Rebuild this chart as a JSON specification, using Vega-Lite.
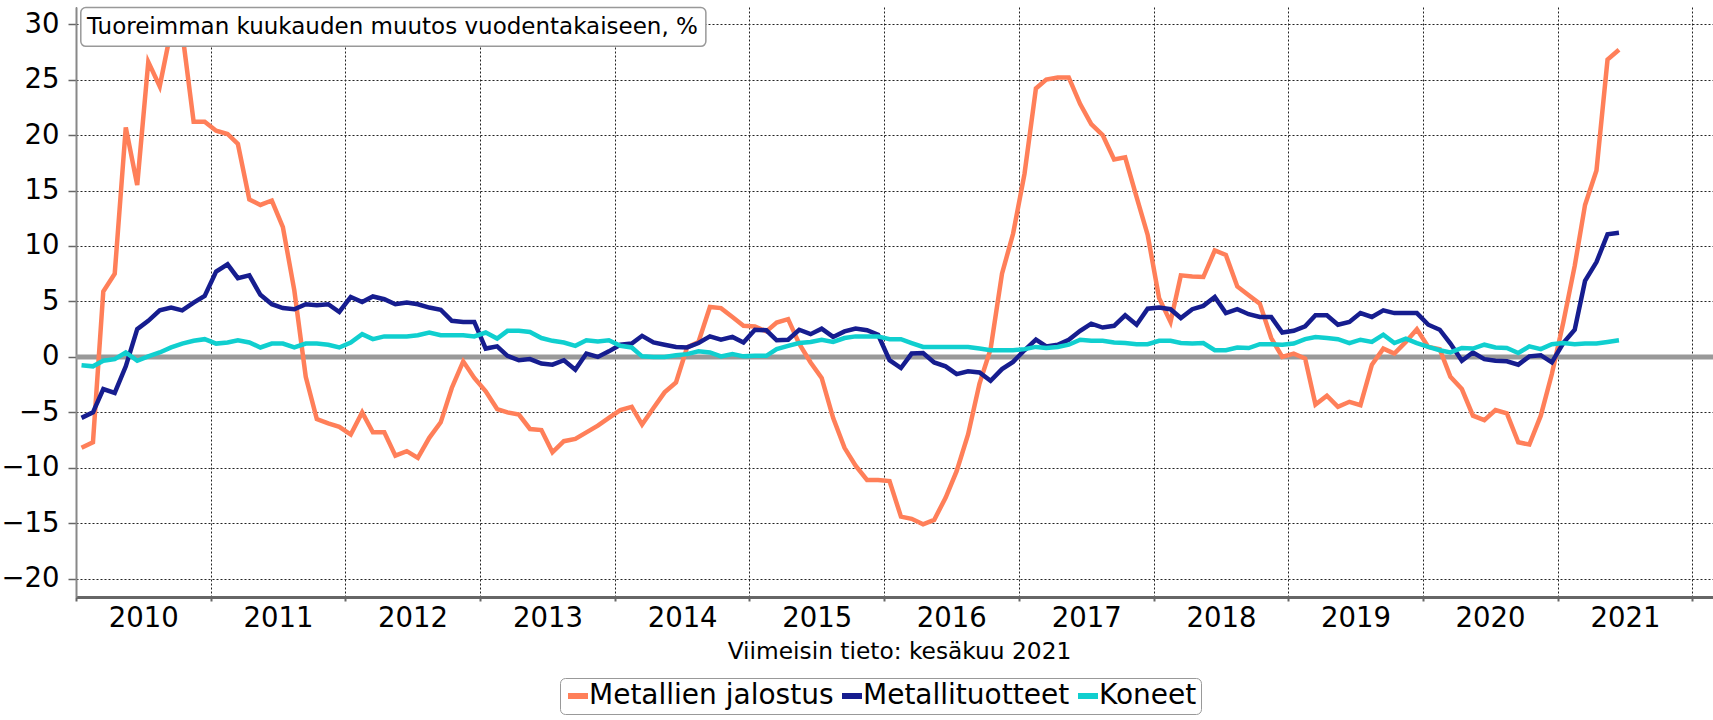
{
  "$schema": "https://vega.github.io/schema/vega-lite/v6.json",
  "width": 1637,
  "height": 590,
  "autosize": {"type": "none"},
  "padding": {"left": 76, "top": 7, "right": 0, "bottom": 123},
  "background": "white",
  "config": {"view": {"stroke": null}, "font": "DejaVu Sans"},
  "datasets": {
    "sarjat": [
      {"kk":"2010-01-16","sarja":"Metallien jalostus","muutos":-8.2},
      {"kk":"2010-02-16","sarja":"Metallien jalostus","muutos":-7.7},
      {"kk":"2010-03-16","sarja":"Metallien jalostus","muutos":5.9},
      {"kk":"2010-04-16","sarja":"Metallien jalostus","muutos":7.5},
      {"kk":"2010-05-16","sarja":"Metallien jalostus","muutos":20.7},
      {"kk":"2010-06-16","sarja":"Metallien jalostus","muutos":15.5},
      {"kk":"2010-07-16","sarja":"Metallien jalostus","muutos":26.6},
      {"kk":"2010-08-16","sarja":"Metallien jalostus","muutos":24.4},
      {"kk":"2010-09-16","sarja":"Metallien jalostus","muutos":29.5},
      {"kk":"2010-10-16","sarja":"Metallien jalostus","muutos":29.3},
      {"kk":"2010-11-16","sarja":"Metallien jalostus","muutos":21.2},
      {"kk":"2010-12-16","sarja":"Metallien jalostus","muutos":21.2},
      {"kk":"2011-01-16","sarja":"Metallien jalostus","muutos":20.4},
      {"kk":"2011-02-16","sarja":"Metallien jalostus","muutos":20.1},
      {"kk":"2011-03-16","sarja":"Metallien jalostus","muutos":19.2},
      {"kk":"2011-04-16","sarja":"Metallien jalostus","muutos":14.2},
      {"kk":"2011-05-16","sarja":"Metallien jalostus","muutos":13.7},
      {"kk":"2011-06-16","sarja":"Metallien jalostus","muutos":14.1},
      {"kk":"2011-07-16","sarja":"Metallien jalostus","muutos":11.7},
      {"kk":"2011-08-16","sarja":"Metallien jalostus","muutos":6.0},
      {"kk":"2011-09-16","sarja":"Metallien jalostus","muutos":-1.8},
      {"kk":"2011-10-16","sarja":"Metallien jalostus","muutos":-5.6},
      {"kk":"2011-11-16","sarja":"Metallien jalostus","muutos":-6.0},
      {"kk":"2011-12-16","sarja":"Metallien jalostus","muutos":-6.3},
      {"kk":"2012-01-16","sarja":"Metallien jalostus","muutos":-7.0},
      {"kk":"2012-02-16","sarja":"Metallien jalostus","muutos":-5.0},
      {"kk":"2012-03-16","sarja":"Metallien jalostus","muutos":-6.8},
      {"kk":"2012-04-16","sarja":"Metallien jalostus","muutos":-6.8},
      {"kk":"2012-05-16","sarja":"Metallien jalostus","muutos":-8.9},
      {"kk":"2012-06-16","sarja":"Metallien jalostus","muutos":-8.5},
      {"kk":"2012-07-16","sarja":"Metallien jalostus","muutos":-9.1},
      {"kk":"2012-08-16","sarja":"Metallien jalostus","muutos":-7.3},
      {"kk":"2012-09-16","sarja":"Metallien jalostus","muutos":-5.9},
      {"kk":"2012-10-16","sarja":"Metallien jalostus","muutos":-2.8},
      {"kk":"2012-11-16","sarja":"Metallien jalostus","muutos":-0.4},
      {"kk":"2012-12-16","sarja":"Metallien jalostus","muutos":-1.9},
      {"kk":"2013-01-16","sarja":"Metallien jalostus","muutos":-3.1},
      {"kk":"2013-02-16","sarja":"Metallien jalostus","muutos":-4.7},
      {"kk":"2013-03-16","sarja":"Metallien jalostus","muutos":-5.0},
      {"kk":"2013-04-16","sarja":"Metallien jalostus","muutos":-5.2},
      {"kk":"2013-05-16","sarja":"Metallien jalostus","muutos":-6.5},
      {"kk":"2013-06-16","sarja":"Metallien jalostus","muutos":-6.6},
      {"kk":"2013-07-16","sarja":"Metallien jalostus","muutos":-8.6},
      {"kk":"2013-08-16","sarja":"Metallien jalostus","muutos":-7.6},
      {"kk":"2013-09-16","sarja":"Metallien jalostus","muutos":-7.4},
      {"kk":"2013-10-16","sarja":"Metallien jalostus","muutos":-6.8},
      {"kk":"2013-11-16","sarja":"Metallien jalostus","muutos":-6.2},
      {"kk":"2013-12-16","sarja":"Metallien jalostus","muutos":-5.5},
      {"kk":"2014-01-16","sarja":"Metallien jalostus","muutos":-4.8},
      {"kk":"2014-02-16","sarja":"Metallien jalostus","muutos":-4.5},
      {"kk":"2014-03-16","sarja":"Metallien jalostus","muutos":-6.1},
      {"kk":"2014-04-16","sarja":"Metallien jalostus","muutos":-4.6},
      {"kk":"2014-05-16","sarja":"Metallien jalostus","muutos":-3.2},
      {"kk":"2014-06-16","sarja":"Metallien jalostus","muutos":-2.3},
      {"kk":"2014-07-16","sarja":"Metallien jalostus","muutos":0.85},
      {"kk":"2014-08-16","sarja":"Metallien jalostus","muutos":1.35},
      {"kk":"2014-09-16","sarja":"Metallien jalostus","muutos":4.5},
      {"kk":"2014-10-16","sarja":"Metallien jalostus","muutos":4.4},
      {"kk":"2014-11-16","sarja":"Metallien jalostus","muutos":3.6},
      {"kk":"2014-12-16","sarja":"Metallien jalostus","muutos":2.8},
      {"kk":"2015-01-16","sarja":"Metallien jalostus","muutos":2.75},
      {"kk":"2015-02-16","sarja":"Metallien jalostus","muutos":2.3},
      {"kk":"2015-03-16","sarja":"Metallien jalostus","muutos":3.1},
      {"kk":"2015-04-16","sarja":"Metallien jalostus","muutos":3.4},
      {"kk":"2015-05-16","sarja":"Metallien jalostus","muutos":1.2},
      {"kk":"2015-06-16","sarja":"Metallien jalostus","muutos":-0.5},
      {"kk":"2015-07-16","sarja":"Metallien jalostus","muutos":-1.9},
      {"kk":"2015-08-16","sarja":"Metallien jalostus","muutos":-5.5},
      {"kk":"2015-09-16","sarja":"Metallien jalostus","muutos":-8.2},
      {"kk":"2015-10-16","sarja":"Metallien jalostus","muutos":-9.8},
      {"kk":"2015-11-16","sarja":"Metallien jalostus","muutos":-11.1},
      {"kk":"2015-12-16","sarja":"Metallien jalostus","muutos":-11.1},
      {"kk":"2016-01-16","sarja":"Metallien jalostus","muutos":-11.2},
      {"kk":"2016-02-16","sarja":"Metallien jalostus","muutos":-14.4},
      {"kk":"2016-03-16","sarja":"Metallien jalostus","muutos":-14.6},
      {"kk":"2016-04-16","sarja":"Metallien jalostus","muutos":-15.1},
      {"kk":"2016-05-16","sarja":"Metallien jalostus","muutos":-14.7},
      {"kk":"2016-06-16","sarja":"Metallien jalostus","muutos":-12.7},
      {"kk":"2016-07-16","sarja":"Metallien jalostus","muutos":-10.3},
      {"kk":"2016-08-16","sarja":"Metallien jalostus","muutos":-7.0},
      {"kk":"2016-09-16","sarja":"Metallien jalostus","muutos":-2.4},
      {"kk":"2016-10-16","sarja":"Metallien jalostus","muutos":0.7},
      {"kk":"2016-11-16","sarja":"Metallien jalostus","muutos":7.5},
      {"kk":"2016-12-16","sarja":"Metallien jalostus","muutos":11.1},
      {"kk":"2017-01-16","sarja":"Metallien jalostus","muutos":16.5},
      {"kk":"2017-02-16","sarja":"Metallien jalostus","muutos":24.2},
      {"kk":"2017-03-16","sarja":"Metallien jalostus","muutos":25.0},
      {"kk":"2017-04-16","sarja":"Metallien jalostus","muutos":25.2},
      {"kk":"2017-05-16","sarja":"Metallien jalostus","muutos":25.2},
      {"kk":"2017-06-16","sarja":"Metallien jalostus","muutos":22.8},
      {"kk":"2017-07-16","sarja":"Metallien jalostus","muutos":21.0},
      {"kk":"2017-08-16","sarja":"Metallien jalostus","muutos":20.0},
      {"kk":"2017-09-16","sarja":"Metallien jalostus","muutos":17.8},
      {"kk":"2017-10-16","sarja":"Metallien jalostus","muutos":18.0},
      {"kk":"2017-11-16","sarja":"Metallien jalostus","muutos":14.4},
      {"kk":"2017-12-16","sarja":"Metallien jalostus","muutos":11.0},
      {"kk":"2018-01-16","sarja":"Metallien jalostus","muutos":5.3},
      {"kk":"2018-02-16","sarja":"Metallien jalostus","muutos":3.15},
      {"kk":"2018-03-16","sarja":"Metallien jalostus","muutos":7.35},
      {"kk":"2018-04-16","sarja":"Metallien jalostus","muutos":7.25},
      {"kk":"2018-05-16","sarja":"Metallien jalostus","muutos":7.2},
      {"kk":"2018-06-16","sarja":"Metallien jalostus","muutos":9.6},
      {"kk":"2018-07-16","sarja":"Metallien jalostus","muutos":9.2},
      {"kk":"2018-08-16","sarja":"Metallien jalostus","muutos":6.35},
      {"kk":"2018-09-16","sarja":"Metallien jalostus","muutos":5.55},
      {"kk":"2018-10-16","sarja":"Metallien jalostus","muutos":4.8},
      {"kk":"2018-11-16","sarja":"Metallien jalostus","muutos":1.7},
      {"kk":"2018-12-16","sarja":"Metallien jalostus","muutos":0.0},
      {"kk":"2019-01-16","sarja":"Metallien jalostus","muutos":0.3},
      {"kk":"2019-02-16","sarja":"Metallien jalostus","muutos":-0.15},
      {"kk":"2019-03-16","sarja":"Metallien jalostus","muutos":-4.3},
      {"kk":"2019-04-16","sarja":"Metallien jalostus","muutos":-3.5},
      {"kk":"2019-05-16","sarja":"Metallien jalostus","muutos":-4.5},
      {"kk":"2019-06-16","sarja":"Metallien jalostus","muutos":-4.05},
      {"kk":"2019-07-16","sarja":"Metallien jalostus","muutos":-4.35},
      {"kk":"2019-08-16","sarja":"Metallien jalostus","muutos":-0.7},
      {"kk":"2019-09-16","sarja":"Metallien jalostus","muutos":0.75},
      {"kk":"2019-10-16","sarja":"Metallien jalostus","muutos":0.3},
      {"kk":"2019-11-16","sarja":"Metallien jalostus","muutos":1.35},
      {"kk":"2019-12-16","sarja":"Metallien jalostus","muutos":2.5},
      {"kk":"2020-01-16","sarja":"Metallien jalostus","muutos":0.9},
      {"kk":"2020-02-16","sarja":"Metallien jalostus","muutos":0.7},
      {"kk":"2020-03-16","sarja":"Metallien jalostus","muutos":-1.8},
      {"kk":"2020-04-16","sarja":"Metallien jalostus","muutos":-2.9},
      {"kk":"2020-05-16","sarja":"Metallien jalostus","muutos":-5.3},
      {"kk":"2020-06-16","sarja":"Metallien jalostus","muutos":-5.7},
      {"kk":"2020-07-16","sarja":"Metallien jalostus","muutos":-4.8},
      {"kk":"2020-08-16","sarja":"Metallien jalostus","muutos":-5.1},
      {"kk":"2020-09-16","sarja":"Metallien jalostus","muutos":-7.7},
      {"kk":"2020-10-16","sarja":"Metallien jalostus","muutos":-7.9},
      {"kk":"2020-11-16","sarja":"Metallien jalostus","muutos":-5.3},
      {"kk":"2020-12-16","sarja":"Metallien jalostus","muutos":-1.55},
      {"kk":"2021-01-16","sarja":"Metallien jalostus","muutos":3.1},
      {"kk":"2021-02-16","sarja":"Metallien jalostus","muutos":8.2},
      {"kk":"2021-03-16","sarja":"Metallien jalostus","muutos":13.7},
      {"kk":"2021-04-16","sarja":"Metallien jalostus","muutos":16.8},
      {"kk":"2021-05-16","sarja":"Metallien jalostus","muutos":26.8},
      {"kk":"2021-06-16","sarja":"Metallien jalostus","muutos":27.7},

      {"kk":"2010-01-16","sarja":"Metallituotteet","muutos":-5.5},
      {"kk":"2010-02-16","sarja":"Metallituotteet","muutos":-5.0},
      {"kk":"2010-03-16","sarja":"Metallituotteet","muutos":-2.9},
      {"kk":"2010-04-16","sarja":"Metallituotteet","muutos":-3.25},
      {"kk":"2010-05-16","sarja":"Metallituotteet","muutos":-0.85},
      {"kk":"2010-06-16","sarja":"Metallituotteet","muutos":2.5},
      {"kk":"2010-07-16","sarja":"Metallituotteet","muutos":3.25},
      {"kk":"2010-08-16","sarja":"Metallituotteet","muutos":4.2},
      {"kk":"2010-09-16","sarja":"Metallituotteet","muutos":4.45},
      {"kk":"2010-10-16","sarja":"Metallituotteet","muutos":4.2},
      {"kk":"2010-11-16","sarja":"Metallituotteet","muutos":4.9},
      {"kk":"2010-12-16","sarja":"Metallituotteet","muutos":5.5},
      {"kk":"2011-01-16","sarja":"Metallituotteet","muutos":7.7},
      {"kk":"2011-02-16","sarja":"Metallituotteet","muutos":8.35},
      {"kk":"2011-03-16","sarja":"Metallituotteet","muutos":7.1},
      {"kk":"2011-04-16","sarja":"Metallituotteet","muutos":7.35},
      {"kk":"2011-05-16","sarja":"Metallituotteet","muutos":5.6},
      {"kk":"2011-06-16","sarja":"Metallituotteet","muutos":4.75},
      {"kk":"2011-07-16","sarja":"Metallituotteet","muutos":4.4},
      {"kk":"2011-08-16","sarja":"Metallituotteet","muutos":4.3},
      {"kk":"2011-09-16","sarja":"Metallituotteet","muutos":4.75},
      {"kk":"2011-10-16","sarja":"Metallituotteet","muutos":4.65},
      {"kk":"2011-11-16","sarja":"Metallituotteet","muutos":4.75},
      {"kk":"2011-12-16","sarja":"Metallituotteet","muutos":4.05},
      {"kk":"2012-01-16","sarja":"Metallituotteet","muutos":5.4},
      {"kk":"2012-02-16","sarja":"Metallituotteet","muutos":4.95},
      {"kk":"2012-03-16","sarja":"Metallituotteet","muutos":5.45},
      {"kk":"2012-04-16","sarja":"Metallituotteet","muutos":5.2},
      {"kk":"2012-05-16","sarja":"Metallituotteet","muutos":4.75},
      {"kk":"2012-06-16","sarja":"Metallituotteet","muutos":4.9},
      {"kk":"2012-07-16","sarja":"Metallituotteet","muutos":4.75},
      {"kk":"2012-08-16","sarja":"Metallituotteet","muutos":4.45},
      {"kk":"2012-09-16","sarja":"Metallituotteet","muutos":4.25},
      {"kk":"2012-10-16","sarja":"Metallituotteet","muutos":3.25},
      {"kk":"2012-11-16","sarja":"Metallituotteet","muutos":3.15},
      {"kk":"2012-12-16","sarja":"Metallituotteet","muutos":3.15},
      {"kk":"2013-01-16","sarja":"Metallituotteet","muutos":0.75},
      {"kk":"2013-02-16","sarja":"Metallituotteet","muutos":0.95},
      {"kk":"2013-03-16","sarja":"Metallituotteet","muutos":0.1},
      {"kk":"2013-04-16","sarja":"Metallituotteet","muutos":-0.3},
      {"kk":"2013-05-16","sarja":"Metallituotteet","muutos":-0.2},
      {"kk":"2013-06-16","sarja":"Metallituotteet","muutos":-0.6},
      {"kk":"2013-07-16","sarja":"Metallituotteet","muutos":-0.7},
      {"kk":"2013-08-16","sarja":"Metallituotteet","muutos":-0.3},
      {"kk":"2013-09-16","sarja":"Metallituotteet","muutos":-1.15},
      {"kk":"2013-10-16","sarja":"Metallituotteet","muutos":0.3},
      {"kk":"2013-11-16","sarja":"Metallituotteet","muutos":0.0},
      {"kk":"2013-12-16","sarja":"Metallituotteet","muutos":0.5},
      {"kk":"2014-01-16","sarja":"Metallituotteet","muutos":1.1},
      {"kk":"2014-02-16","sarja":"Metallituotteet","muutos":1.2},
      {"kk":"2014-03-16","sarja":"Metallituotteet","muutos":1.9},
      {"kk":"2014-04-16","sarja":"Metallituotteet","muutos":1.3},
      {"kk":"2014-05-16","sarja":"Metallituotteet","muutos":1.1},
      {"kk":"2014-06-16","sarja":"Metallituotteet","muutos":0.9},
      {"kk":"2014-07-16","sarja":"Metallituotteet","muutos":0.85},
      {"kk":"2014-08-16","sarja":"Metallituotteet","muutos":1.25},
      {"kk":"2014-09-16","sarja":"Metallituotteet","muutos":1.85},
      {"kk":"2014-10-16","sarja":"Metallituotteet","muutos":1.55},
      {"kk":"2014-11-16","sarja":"Metallituotteet","muutos":1.8},
      {"kk":"2014-12-16","sarja":"Metallituotteet","muutos":1.3},
      {"kk":"2015-01-16","sarja":"Metallituotteet","muutos":2.45},
      {"kk":"2015-02-16","sarja":"Metallituotteet","muutos":2.4},
      {"kk":"2015-03-16","sarja":"Metallituotteet","muutos":1.5},
      {"kk":"2015-04-16","sarja":"Metallituotteet","muutos":1.55},
      {"kk":"2015-05-16","sarja":"Metallituotteet","muutos":2.45},
      {"kk":"2015-06-16","sarja":"Metallituotteet","muutos":2.05},
      {"kk":"2015-07-16","sarja":"Metallituotteet","muutos":2.55},
      {"kk":"2015-08-16","sarja":"Metallituotteet","muutos":1.8},
      {"kk":"2015-09-16","sarja":"Metallituotteet","muutos":2.3},
      {"kk":"2015-10-16","sarja":"Metallituotteet","muutos":2.55},
      {"kk":"2015-11-16","sarja":"Metallituotteet","muutos":2.4},
      {"kk":"2015-12-16","sarja":"Metallituotteet","muutos":2.0},
      {"kk":"2016-01-16","sarja":"Metallituotteet","muutos":-0.3},
      {"kk":"2016-02-16","sarja":"Metallituotteet","muutos":-1.0},
      {"kk":"2016-03-16","sarja":"Metallituotteet","muutos":0.3},
      {"kk":"2016-04-16","sarja":"Metallituotteet","muutos":0.35},
      {"kk":"2016-05-16","sarja":"Metallituotteet","muutos":-0.5},
      {"kk":"2016-06-16","sarja":"Metallituotteet","muutos":-0.85},
      {"kk":"2016-07-16","sarja":"Metallituotteet","muutos":-1.55},
      {"kk":"2016-08-16","sarja":"Metallituotteet","muutos":-1.3},
      {"kk":"2016-09-16","sarja":"Metallituotteet","muutos":-1.4},
      {"kk":"2016-10-16","sarja":"Metallituotteet","muutos":-2.15},
      {"kk":"2016-11-16","sarja":"Metallituotteet","muutos":-1.1},
      {"kk":"2016-12-16","sarja":"Metallituotteet","muutos":-0.45},
      {"kk":"2017-01-16","sarja":"Metallituotteet","muutos":0.6},
      {"kk":"2017-02-16","sarja":"Metallituotteet","muutos":1.55},
      {"kk":"2017-03-16","sarja":"Metallituotteet","muutos":0.95},
      {"kk":"2017-04-16","sarja":"Metallituotteet","muutos":1.1},
      {"kk":"2017-05-16","sarja":"Metallituotteet","muutos":1.55},
      {"kk":"2017-06-16","sarja":"Metallituotteet","muutos":2.35},
      {"kk":"2017-07-16","sarja":"Metallituotteet","muutos":3.0},
      {"kk":"2017-08-16","sarja":"Metallituotteet","muutos":2.65},
      {"kk":"2017-09-16","sarja":"Metallituotteet","muutos":2.8},
      {"kk":"2017-10-16","sarja":"Metallituotteet","muutos":3.75},
      {"kk":"2017-11-16","sarja":"Metallituotteet","muutos":2.9},
      {"kk":"2017-12-16","sarja":"Metallituotteet","muutos":4.35},
      {"kk":"2018-01-16","sarja":"Metallituotteet","muutos":4.45},
      {"kk":"2018-02-16","sarja":"Metallituotteet","muutos":4.3},
      {"kk":"2018-03-16","sarja":"Metallituotteet","muutos":3.5},
      {"kk":"2018-04-16","sarja":"Metallituotteet","muutos":4.3},
      {"kk":"2018-05-16","sarja":"Metallituotteet","muutos":4.6},
      {"kk":"2018-06-16","sarja":"Metallituotteet","muutos":5.4},
      {"kk":"2018-07-16","sarja":"Metallituotteet","muutos":3.95},
      {"kk":"2018-08-16","sarja":"Metallituotteet","muutos":4.3},
      {"kk":"2018-09-16","sarja":"Metallituotteet","muutos":3.85},
      {"kk":"2018-10-16","sarja":"Metallituotteet","muutos":3.6},
      {"kk":"2018-11-16","sarja":"Metallituotteet","muutos":3.6},
      {"kk":"2018-12-16","sarja":"Metallituotteet","muutos":2.2},
      {"kk":"2019-01-16","sarja":"Metallituotteet","muutos":2.35},
      {"kk":"2019-02-16","sarja":"Metallituotteet","muutos":2.75},
      {"kk":"2019-03-16","sarja":"Metallituotteet","muutos":3.75},
      {"kk":"2019-04-16","sarja":"Metallituotteet","muutos":3.75},
      {"kk":"2019-05-16","sarja":"Metallituotteet","muutos":2.9},
      {"kk":"2019-06-16","sarja":"Metallituotteet","muutos":3.15},
      {"kk":"2019-07-16","sarja":"Metallituotteet","muutos":3.95},
      {"kk":"2019-08-16","sarja":"Metallituotteet","muutos":3.6},
      {"kk":"2019-09-16","sarja":"Metallituotteet","muutos":4.2},
      {"kk":"2019-10-16","sarja":"Metallituotteet","muutos":3.95},
      {"kk":"2019-11-16","sarja":"Metallituotteet","muutos":3.95},
      {"kk":"2019-12-16","sarja":"Metallituotteet","muutos":3.95},
      {"kk":"2020-01-16","sarja":"Metallituotteet","muutos":2.9},
      {"kk":"2020-02-16","sarja":"Metallituotteet","muutos":2.45},
      {"kk":"2020-03-16","sarja":"Metallituotteet","muutos":1.2},
      {"kk":"2020-04-16","sarja":"Metallituotteet","muutos":-0.35},
      {"kk":"2020-05-16","sarja":"Metallituotteet","muutos":0.4},
      {"kk":"2020-06-16","sarja":"Metallituotteet","muutos":-0.2},
      {"kk":"2020-07-16","sarja":"Metallituotteet","muutos":-0.35},
      {"kk":"2020-08-16","sarja":"Metallituotteet","muutos":-0.4},
      {"kk":"2020-09-16","sarja":"Metallituotteet","muutos":-0.7},
      {"kk":"2020-10-16","sarja":"Metallituotteet","muutos":0.05},
      {"kk":"2020-11-16","sarja":"Metallituotteet","muutos":0.15},
      {"kk":"2020-12-16","sarja":"Metallituotteet","muutos":-0.5},
      {"kk":"2021-01-16","sarja":"Metallituotteet","muutos":1.25},
      {"kk":"2021-02-16","sarja":"Metallituotteet","muutos":2.45},
      {"kk":"2021-03-16","sarja":"Metallituotteet","muutos":6.85},
      {"kk":"2021-04-16","sarja":"Metallituotteet","muutos":8.55},
      {"kk":"2021-05-16","sarja":"Metallituotteet","muutos":11.05},
      {"kk":"2021-06-16","sarja":"Metallituotteet","muutos":11.2},

      {"kk":"2010-01-16","sarja":"Koneet","muutos":-0.75},
      {"kk":"2010-02-16","sarja":"Koneet","muutos":-0.85},
      {"kk":"2010-03-16","sarja":"Koneet","muutos":-0.35},
      {"kk":"2010-04-16","sarja":"Koneet","muutos":-0.2},
      {"kk":"2010-05-16","sarja":"Koneet","muutos":0.4},
      {"kk":"2010-06-16","sarja":"Koneet","muutos":-0.35},
      {"kk":"2010-07-16","sarja":"Koneet","muutos":0.05},
      {"kk":"2010-08-16","sarja":"Koneet","muutos":0.4},
      {"kk":"2010-09-16","sarja":"Koneet","muutos":0.85},
      {"kk":"2010-10-16","sarja":"Koneet","muutos":1.2},
      {"kk":"2010-11-16","sarja":"Koneet","muutos":1.45},
      {"kk":"2010-12-16","sarja":"Koneet","muutos":1.6},
      {"kk":"2011-01-16","sarja":"Koneet","muutos":1.2},
      {"kk":"2011-02-16","sarja":"Koneet","muutos":1.3},
      {"kk":"2011-03-16","sarja":"Koneet","muutos":1.5},
      {"kk":"2011-04-16","sarja":"Koneet","muutos":1.3},
      {"kk":"2011-05-16","sarja":"Koneet","muutos":0.85},
      {"kk":"2011-06-16","sarja":"Koneet","muutos":1.2},
      {"kk":"2011-07-16","sarja":"Koneet","muutos":1.2},
      {"kk":"2011-08-16","sarja":"Koneet","muutos":0.85},
      {"kk":"2011-09-16","sarja":"Koneet","muutos":1.2},
      {"kk":"2011-10-16","sarja":"Koneet","muutos":1.2},
      {"kk":"2011-11-16","sarja":"Koneet","muutos":1.1},
      {"kk":"2011-12-16","sarja":"Koneet","muutos":0.85},
      {"kk":"2012-01-16","sarja":"Koneet","muutos":1.3},
      {"kk":"2012-02-16","sarja":"Koneet","muutos":2.05},
      {"kk":"2012-03-16","sarja":"Koneet","muutos":1.6},
      {"kk":"2012-04-16","sarja":"Koneet","muutos":1.85},
      {"kk":"2012-05-16","sarja":"Koneet","muutos":1.85},
      {"kk":"2012-06-16","sarja":"Koneet","muutos":1.85},
      {"kk":"2012-07-16","sarja":"Koneet","muutos":1.95},
      {"kk":"2012-08-16","sarja":"Koneet","muutos":2.2},
      {"kk":"2012-09-16","sarja":"Koneet","muutos":1.95},
      {"kk":"2012-10-16","sarja":"Koneet","muutos":1.95},
      {"kk":"2012-11-16","sarja":"Koneet","muutos":1.95},
      {"kk":"2012-12-16","sarja":"Koneet","muutos":1.85},
      {"kk":"2013-01-16","sarja":"Koneet","muutos":2.2},
      {"kk":"2013-02-16","sarja":"Koneet","muutos":1.65},
      {"kk":"2013-03-16","sarja":"Koneet","muutos":2.35},
      {"kk":"2013-04-16","sarja":"Koneet","muutos":2.35},
      {"kk":"2013-05-16","sarja":"Koneet","muutos":2.25},
      {"kk":"2013-06-16","sarja":"Koneet","muutos":1.7},
      {"kk":"2013-07-16","sarja":"Koneet","muutos":1.45},
      {"kk":"2013-08-16","sarja":"Koneet","muutos":1.3},
      {"kk":"2013-09-16","sarja":"Koneet","muutos":1.0},
      {"kk":"2013-10-16","sarja":"Koneet","muutos":1.5},
      {"kk":"2013-11-16","sarja":"Koneet","muutos":1.4},
      {"kk":"2013-12-16","sarja":"Koneet","muutos":1.5},
      {"kk":"2014-01-16","sarja":"Koneet","muutos":1.0},
      {"kk":"2014-02-16","sarja":"Koneet","muutos":0.85},
      {"kk":"2014-03-16","sarja":"Koneet","muutos":0.05},
      {"kk":"2014-04-16","sarja":"Koneet","muutos":0.0},
      {"kk":"2014-05-16","sarja":"Koneet","muutos":0.0},
      {"kk":"2014-06-16","sarja":"Koneet","muutos":0.15},
      {"kk":"2014-07-16","sarja":"Koneet","muutos":0.25},
      {"kk":"2014-08-16","sarja":"Koneet","muutos":0.5},
      {"kk":"2014-09-16","sarja":"Koneet","muutos":0.4},
      {"kk":"2014-10-16","sarja":"Koneet","muutos":0.05},
      {"kk":"2014-11-16","sarja":"Koneet","muutos":0.25},
      {"kk":"2014-12-16","sarja":"Koneet","muutos":0.05},
      {"kk":"2015-01-16","sarja":"Koneet","muutos":0.1},
      {"kk":"2015-02-16","sarja":"Koneet","muutos":0.1},
      {"kk":"2015-03-16","sarja":"Koneet","muutos":0.7},
      {"kk":"2015-04-16","sarja":"Koneet","muutos":1.0},
      {"kk":"2015-05-16","sarja":"Koneet","muutos":1.25},
      {"kk":"2015-06-16","sarja":"Koneet","muutos":1.35},
      {"kk":"2015-07-16","sarja":"Koneet","muutos":1.55},
      {"kk":"2015-08-16","sarja":"Koneet","muutos":1.35},
      {"kk":"2015-09-16","sarja":"Koneet","muutos":1.7},
      {"kk":"2015-10-16","sarja":"Koneet","muutos":1.85},
      {"kk":"2015-11-16","sarja":"Koneet","muutos":1.85},
      {"kk":"2015-12-16","sarja":"Koneet","muutos":1.85},
      {"kk":"2016-01-16","sarja":"Koneet","muutos":1.6},
      {"kk":"2016-02-16","sarja":"Koneet","muutos":1.6},
      {"kk":"2016-03-16","sarja":"Koneet","muutos":1.25},
      {"kk":"2016-04-16","sarja":"Koneet","muutos":0.9},
      {"kk":"2016-05-16","sarja":"Koneet","muutos":0.9},
      {"kk":"2016-06-16","sarja":"Koneet","muutos":0.9},
      {"kk":"2016-07-16","sarja":"Koneet","muutos":0.9},
      {"kk":"2016-08-16","sarja":"Koneet","muutos":0.9},
      {"kk":"2016-09-16","sarja":"Koneet","muutos":0.75},
      {"kk":"2016-10-16","sarja":"Koneet","muutos":0.6},
      {"kk":"2016-11-16","sarja":"Koneet","muutos":0.6},
      {"kk":"2016-12-16","sarja":"Koneet","muutos":0.6},
      {"kk":"2017-01-16","sarja":"Koneet","muutos":0.7},
      {"kk":"2017-02-16","sarja":"Koneet","muutos":0.9},
      {"kk":"2017-03-16","sarja":"Koneet","muutos":0.8},
      {"kk":"2017-04-16","sarja":"Koneet","muutos":0.9},
      {"kk":"2017-05-16","sarja":"Koneet","muutos":1.1},
      {"kk":"2017-06-16","sarja":"Koneet","muutos":1.55},
      {"kk":"2017-07-16","sarja":"Koneet","muutos":1.45},
      {"kk":"2017-08-16","sarja":"Koneet","muutos":1.45},
      {"kk":"2017-09-16","sarja":"Koneet","muutos":1.3},
      {"kk":"2017-10-16","sarja":"Koneet","muutos":1.25},
      {"kk":"2017-11-16","sarja":"Koneet","muutos":1.15},
      {"kk":"2017-12-16","sarja":"Koneet","muutos":1.15},
      {"kk":"2018-01-16","sarja":"Koneet","muutos":1.45},
      {"kk":"2018-02-16","sarja":"Koneet","muutos":1.45},
      {"kk":"2018-03-16","sarja":"Koneet","muutos":1.25},
      {"kk":"2018-04-16","sarja":"Koneet","muutos":1.2},
      {"kk":"2018-05-16","sarja":"Koneet","muutos":1.25},
      {"kk":"2018-06-16","sarja":"Koneet","muutos":0.6},
      {"kk":"2018-07-16","sarja":"Koneet","muutos":0.6},
      {"kk":"2018-08-16","sarja":"Koneet","muutos":0.85},
      {"kk":"2018-09-16","sarja":"Koneet","muutos":0.8},
      {"kk":"2018-10-16","sarja":"Koneet","muutos":1.15},
      {"kk":"2018-11-16","sarja":"Koneet","muutos":1.15},
      {"kk":"2018-12-16","sarja":"Koneet","muutos":1.1},
      {"kk":"2019-01-16","sarja":"Koneet","muutos":1.2},
      {"kk":"2019-02-16","sarja":"Koneet","muutos":1.6},
      {"kk":"2019-03-16","sarja":"Koneet","muutos":1.8},
      {"kk":"2019-04-16","sarja":"Koneet","muutos":1.7},
      {"kk":"2019-05-16","sarja":"Koneet","muutos":1.6},
      {"kk":"2019-06-16","sarja":"Koneet","muutos":1.25},
      {"kk":"2019-07-16","sarja":"Koneet","muutos":1.55},
      {"kk":"2019-08-16","sarja":"Koneet","muutos":1.35},
      {"kk":"2019-09-16","sarja":"Koneet","muutos":2.0},
      {"kk":"2019-10-16","sarja":"Koneet","muutos":1.25},
      {"kk":"2019-11-16","sarja":"Koneet","muutos":1.65},
      {"kk":"2019-12-16","sarja":"Koneet","muutos":1.25},
      {"kk":"2020-01-16","sarja":"Koneet","muutos":0.9},
      {"kk":"2020-02-16","sarja":"Koneet","muutos":0.6},
      {"kk":"2020-03-16","sarja":"Koneet","muutos":0.4},
      {"kk":"2020-04-16","sarja":"Koneet","muutos":0.8},
      {"kk":"2020-05-16","sarja":"Koneet","muutos":0.75},
      {"kk":"2020-06-16","sarja":"Koneet","muutos":1.1},
      {"kk":"2020-07-16","sarja":"Koneet","muutos":0.85},
      {"kk":"2020-08-16","sarja":"Koneet","muutos":0.8},
      {"kk":"2020-09-16","sarja":"Koneet","muutos":0.35},
      {"kk":"2020-10-16","sarja":"Koneet","muutos":0.95},
      {"kk":"2020-11-16","sarja":"Koneet","muutos":0.7},
      {"kk":"2020-12-16","sarja":"Koneet","muutos":1.15},
      {"kk":"2021-01-16","sarja":"Koneet","muutos":1.25},
      {"kk":"2021-02-16","sarja":"Koneet","muutos":1.15},
      {"kk":"2021-03-16","sarja":"Koneet","muutos":1.2},
      {"kk":"2021-04-16","sarja":"Koneet","muutos":1.2},
      {"kk":"2021-05-16","sarja":"Koneet","muutos":1.35},
      {"kk":"2021-06-16","sarja":"Koneet","muutos":1.5}
    ]
  },
  "layer": [
    {
      "data": {"values": [{}]},
      "mark": {"type": "rule", "color": "#999999", "strokeWidth": 5},
      "encoding": {"y": {"datum": 0, "type": "quantitative"}}
    },
    {
      "data": {"name": "sarjat"},
      "mark": {"type": "line", "strokeWidth": 4.5},
      "encoding": {
        "x": {
          "field": "kk",
          "type": "temporal",
          "scale": {
            "type": "utc",
            "domain": [
              {"year": 2010, "month": 1, "date": 1, "utc": true},
              {"year": 2022, "month": 2, "date": 26, "utc": true}
            ]
          },
          "axis": {
            "values": [
              {"year": 2010, "month": 1, "date": 1, "utc": true},
              {"year": 2011, "month": 1, "date": 1, "utc": true},
              {"year": 2012, "month": 1, "date": 1, "utc": true},
              {"year": 2013, "month": 1, "date": 1, "utc": true},
              {"year": 2014, "month": 1, "date": 1, "utc": true},
              {"year": 2015, "month": 1, "date": 1, "utc": true},
              {"year": 2016, "month": 1, "date": 1, "utc": true},
              {"year": 2017, "month": 1, "date": 1, "utc": true},
              {"year": 2018, "month": 1, "date": 1, "utc": true},
              {"year": 2019, "month": 1, "date": 1, "utc": true},
              {"year": 2020, "month": 1, "date": 1, "utc": true},
              {"year": 2021, "month": 1, "date": 1, "utc": true},
              {"year": 2022, "month": 1, "date": 1, "utc": true}
            ],
            "labelExpr": "utcyear(datum.value) <= 2021 ? utcFormat(datum.value, '%Y') : ''",
            "labelOffset": 67.35,
            "labelFlush": false,
            "labelOverlap": false,
            "labelFont": "DejaVu Sans",
            "labelFontSize": 27.5,
            "labelColor": "#000000",
            "labelBaseline": "alphabetic",
            "labelPadding": 25.5,
            "ticks": true,
            "tickSize": 4,
            "tickColor": "#666666",
            "tickWidth": 2,
            "domainColor": "#666666",
            "domainWidth": 3,
            "grid": true,
            "gridColor": "#222222",
            "gridDash": [2, 2],
            "gridWidth": 1,
            "gridOpacity": 1,
            "title": "Viimeisin tieto: kesäkuu 2021",
            "titleFont": "DejaVu Sans",
            "titleFontSize": 23.3,
            "titleFontWeight": "normal",
            "titleColor": "#000000",
            "titleX": 823,
            "titleY": 61,
            "titleAlign": "center",
            "titleBaseline": "alphabetic"
          }
        },
        "y": {
          "field": "muutos",
          "type": "quantitative",
          "scale": {"domain": [-21.65, 31.55], "nice": false, "zero": false},
          "axis": {
            "values": [-20, -15, -10, -5, 0, 5, 10, 15, 20, 25, 30],
            "title": null,
            "labelFont": "DejaVu Sans",
            "labelFontSize": 27.5,
            "labelColor": "#000000",
            "labelPadding": 9,
            "tickSize": 8,
            "tickColor": "#666666",
            "tickWidth": 1.5,
            "domainColor": "#888888",
            "domainWidth": 2,
            "grid": true,
            "gridColor": "#222222",
            "gridDash": [2, 2],
            "gridWidth": 1,
            "gridOpacity": 1
          }
        },
        "color": {
          "field": "sarja",
          "type": "nominal",
          "scale": {
            "domain": ["Metallien jalostus", "Metallituotteet", "Koneet"],
            "range": ["#ff7f59", "#161d8f", "#10cfcf"]
          },
          "legend": {
            "orient": "none",
            "legendX": 484,
            "legendY": 671,
            "direction": "horizontal",
            "title": null,
            "symbolType": "stroke",
            "symbolStrokeWidth": 6,
            "symbolSize": 400,
            "symbolOpacity": 1,
            "labelFont": "DejaVu Sans",
            "labelFontSize": 28,
            "labelColor": "#000000",
            "labelLimit": 600,
            "labelOffset": -3,
            "columnPadding": -4,
            "padding": 4,
            "strokeColor": "#999999",
            "fillColor": "#ffffff",
            "cornerRadius": 5
          }
        }
      }
    },
    {
      "data": {"values": [{}]},
      "mark": {"type": "rect", "fill": "#ffffff", "stroke": "#999999", "strokeWidth": 1.5, "cornerRadius": 5},
      "encoding": {
        "x": {"datum": {"year": 2010, "month": 1, "date": 14, "utc": true}, "type": "temporal"},
        "x2": {"datum": {"year": 2014, "month": 9, "date": 5, "utc": true}},
        "y": {"datum": 31.5, "type": "quantitative"},
        "y2": {"datum": 28.0}
      }
    },
    {
      "data": {"values": [{}]},
      "mark": {
        "type": "text",
        "text": "Tuoreimman kuukauden muutos vuodentakaiseen, %",
        "align": "left",
        "baseline": "middle",
        "font": "DejaVu Sans",
        "fontSize": 23,
        "color": "#000000"
      },
      "encoding": {
        "x": {"datum": {"year": 2010, "month": 1, "date": 31, "utc": true}, "type": "temporal"},
        "y": {"datum": 29.77, "type": "quantitative"}
      }
    }
  ]
}
